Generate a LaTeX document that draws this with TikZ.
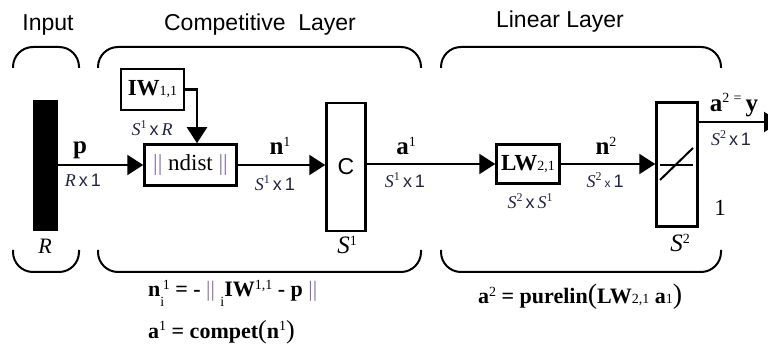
\documentclass[tikz,border=0pt]{standalone}
\usepackage{fontspec}
\setmainfont{Liberation Serif}
\setsansfont{Liberation Sans}
\usetikzlibrary{arrows.meta,calc}
\definecolor{lbl}{RGB}{35,35,65}
\definecolor{barc}{RGB}{130,110,170}
\newcommand\fs[1]{\fontsize{#1}{#1}\selectfont}
\newcommand\hi[1]{\raisebox{0.33em}{\fs{14}\mdseries\upshape #1}}
\newcommand\lo[1]{\raisebox{-0.45em}{\fs{14}\mdseries\upshape #1}}
\newcommand\bs[1]{{\fs{14}\mdseries\upshape #1}}
\newcommand\Sn[1]{\textit{S}\raisebox{0.38em}{\fs{12}\upshape #1}}
\newcommand\xx{\,\textsf{x}\,}
\begin{document}
\begin{tikzpicture}[x=1pt,y=-1pt,
 box/.style={draw,line width=2.5pt,inner sep=0pt},
 arr/.style={line width=2.2pt,-{Triangle[length=16pt,width=20pt]}},
 brk/.style={line width=2pt,rounded corners=20pt},
 ttl/.style={font=\sffamily\fs{23},inner sep=0pt},
 lab/.style={font=\bfseries\fs{25},inner sep=0pt},
 dim/.style={font=\fs{18},text=lbl,inner sep=0pt},
 eq/.style={font=\bfseries\fs{22},inner sep=0pt,anchor=west},
]
\useasboundingbox (0,0) rectangle (768,344);
\clip (0,0) rectangle (768,344);

% titles
\node[ttl] (tin) at (48,25) {Input};
\node[ttl] (tcl) at (260,25) {Competitive\ \ Layer};
\node[ttl] (tll) at (560,22) {Linear Layer};

% brackets
\draw[brk] (13,68) -- (13,47) -- (79,47) -- (79,68);
\draw[brk] (98,68) -- (98,47) -- (421,47) -- (421,68);
\draw[brk] (441,68) -- (441,47) -- (721,47) -- (721,68);
\draw[brk] (13,250) -- (13,272) -- (79,272) -- (79,250);
\draw[brk] (98,250) -- (98,272) -- (421,272) -- (421,250);
\draw[brk] (441,250) -- (441,272) -- (721,272) -- (721,250);

% blocks
\node[fill=black,minimum width=25pt,minimum height=131pt,inner sep=0pt] (inp) at (45.5,165.5) {};
\node[box,minimum width=63pt,minimum height=41pt] (iw) at (152.5,89.5) {\bfseries\fs{23}IW\bs{1,1}};
\node[box,minimum width=92pt,minimum height=41pt] (nd) at (190.5,165) {\fs{23}{\color{barc}||} ndist {\color{barc}||}};
\node[box,minimum width=39pt,minimum height=128pt] (c) at (346,167) {\sffamily\fs{23}C};
\node[box,minimum width=63pt,minimum height=39pt] (lw) at (528,164) {\bfseries\fs{23}LW\bs{2,1}};
\node[box,minimum width=41pt,minimum height=124pt] (pl) at (677,164.5) {};
\draw[line width=1.5pt] ($(pl.center)+(-17,0.5)$) -- ($(pl.center)+(16,0.5)$);
\draw[line width=2pt] ($(pl.center)+(-17,15.5)$) -- ($(pl.center)+(16,-16.5)$);

% connectors
\draw[arr] (inp.east|-nd.west) -- (nd.west);
\draw[arr] (iw.east) -| ($(nd.north)+(6.5,0)$);
\draw[arr] (nd.east) -- (c.west|-nd.east);
\draw[arr] (c.east|-lw.west) -- (lw.west);
\draw[arr] (lw.east) -- (pl.west|-lw.east);
\coordinate (out) at (780,122);
\draw[arr] (pl.east|-out) -- (out);

% labels
\node[lab] (lp) at (80,150) {p};
\node[dim] (lrx) at (83,180) {\textit{R}\xx\textsf{1}};
\node[dim] (liwd) at (152,128) {\Sn{1}\xx\textit{R}};
\node[lab] (ln1) at (280,146) {n\hi{1}};
\node[dim] (ln1d) at (275,183) {\Sn{1}\xx\textsf{1}};
\node[font=\fs{25}\itshape,inner sep=0pt] (ls1) at (347,245) {S\hi{1}};
\node[font=\fs{22}\itshape,inner sep=0pt] (lr) at (45,246) {R};
\node[lab] (la1) at (406,146) {a\hi{1}};
\node[dim] (la1d) at (405,180) {\Sn{1}\xx\textsf{1}};
\node[dim] (llwd) at (530,201) {\Sn{2}\xx\Sn{1}};
\node[lab] (ln2) at (606,146) {n\hi{2}};
\node[dim] (ln2d) at (605,180) {\Sn{2}\,{\sffamily\fs{12}x}\,\textsf{1}};
\node[lab] (la2) at (734,105) {a\hi{2}\,\hi{=}\,y};
\node[dim] (la2d) at (731,138) {\Sn{2}\xx\textsf{1}};
\node[font=\fs{23},inner sep=0pt] (lone) at (720,208) {1};
\node[font=\fs{25}\itshape,inner sep=0pt] (ls2) at (680,243) {S\hi{2}};

% equations
\node[eq] (eq1) at (148,293) {n\rlap{\lo{i}}\hi{\,1} = - {\mdseries\color{barc}||} \lo{i}IW\hi{1,1} - p {\mdseries\color{barc}||}};
\node[eq] (eq2) at (148,332) {a\hi{1} = compet{\mdseries\fs{26}(}n\hi{1}{\mdseries\fs{26})}};
\node[eq] (eq3) at (478,297) {a\hi{2} = purelin{\mdseries\fs{28}(}LW\bs{2,1} a\bs{1}{\mdseries\fs{28})}};
\end{tikzpicture}
\end{document}
